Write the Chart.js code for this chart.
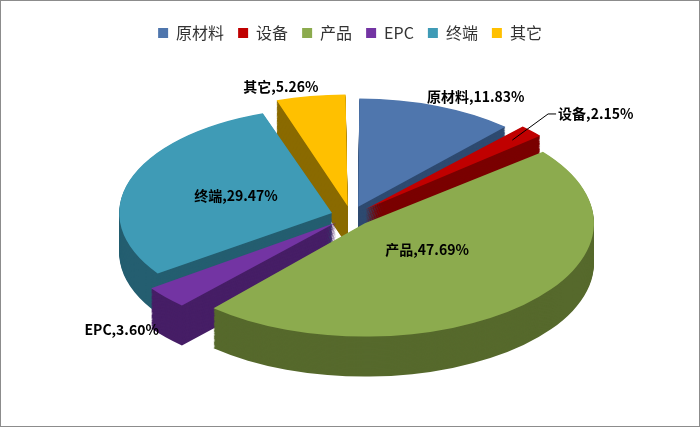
<!DOCTYPE html>
<html><head><meta charset="utf-8">
<script src="https://cdn.jsdelivr.net/npm/chart.js@4/dist/chart.umd.min.js"></script>
<style>
body{margin:0;background:#fff;}
#wrap{position:absolute;left:0;top:0;width:698px;height:425px;border:1px solid #8c8c8c;}
</style></head><body>
<div id="wrap"><canvas id="c"></canvas></div>
<script>
const categories = ['原材料','设备','产品','EPC','终端','其它'];
const shares = [11.83, 2.15, 47.69, 3.60, 29.47, 5.26];
const topColors = ['#4f76ad','#c00000','#8cab4e','#7334a3','#3f9bb6','#ffc000'];
const sideColors = ['#2e4a70','#7a0000','#56692c','#461e66','#245e70','#8a6a00'];
// label placement: radial factor on the ellipse, extra dx,dy
const labelPos = [[1.1,40,-12],[1.3,45,-8],[0.45,10,0],[1.35,-15,20],[0.62,10,0],[1.15,-30,-10]];

const CX = 350, CY = 215, RX = 212, RY = 105, DEPTH = 40;

const fake3d = {
  id: 'fake3d',
  beforeDatasetsDraw(chart) {
    const ctx = chart.ctx;
    const arcs = chart.getDatasetMeta(0).data;
    const a0 = arcs[0], r = a0.outerRadius;
    ctx.save();
    ctx.translate(CX, CY);
    ctx.scale(RX / r, RY / r);
    ctx.translate(-a0.x, -a0.y);
    const d = DEPTH * r / RY;
    for (let s = d; s > 0; s -= 1.5) {
      arcs.forEach((arc, i) => {
        const p = Object.create(arc);
        p.options = Object.assign({}, arc.options, {backgroundColor: sideColors[i], borderWidth: 0});
        ctx.save();
        ctx.translate(0, s);
        arc.draw.call(p, ctx);
        ctx.restore();
      });
    }
  },
  afterDatasetsDraw(chart) {
    chart.ctx.restore();
  },
  afterDraw(chart) {
    const ctx = chart.ctx;
    const arcs = chart.getDatasetMeta(0).data;
    ctx.save();
    ctx.font = 'bold 14px "Noto Sans CJK SC", sans-serif';
    ctx.fillStyle = '#000';
    ctx.textAlign = 'center';
    ctx.textBaseline = 'middle';
    arcs.forEach((arc, i) => {
      const ang = (arc.startAngle + arc.endAngle) / 2;
      const f = labelPos[i][0];
      const x = CX + Math.cos(ang) * RX * f + labelPos[i][1];
      const y = CY + Math.sin(ang) * RY * f + labelPos[i][2];
      const txt = categories[i] + ',' + shares[i].toFixed(2) + '%';
      ctx.fillText(txt, x, y);
      if (i === 1) {
        const w = ctx.measureText(txt).width / 2;
        ctx.strokeStyle = '#000'; ctx.lineWidth = 1;
        ctx.beginPath();
        ctx.moveTo(x - w - 2, y);
        ctx.lineTo(x - w - 10, y);
        ctx.lineTo(CX + Math.cos(ang) * RX * 1.05, CY + Math.sin(ang) * RY * 1.05);
        ctx.stroke();
      }
    });
    ctx.restore();
  }
};

new Chart(document.getElementById('c'), {
  type: 'pie',
  data: {
    labels: categories,
    datasets: [{
      data: shares,
      backgroundColor: topColors,
      borderWidth: 0,
      offset: 50
    }]
  },
  options: {
    responsive: true,
    maintainAspectRatio: false,
    animation: false,
    events: [],
    layout: { padding: { top: 10, bottom: 60 } },
    plugins: {
      legend: {
        position: 'top',
        labels: { boxWidth: 10, boxHeight: 10, font: { size: 16, family: '"Noto Sans CJK SC", sans-serif' }, color: '#333', padding: 14 }
      },
      tooltip: { enabled: false }
    }
  },
  plugins: [fake3d]
});
</script>
</body></html>
